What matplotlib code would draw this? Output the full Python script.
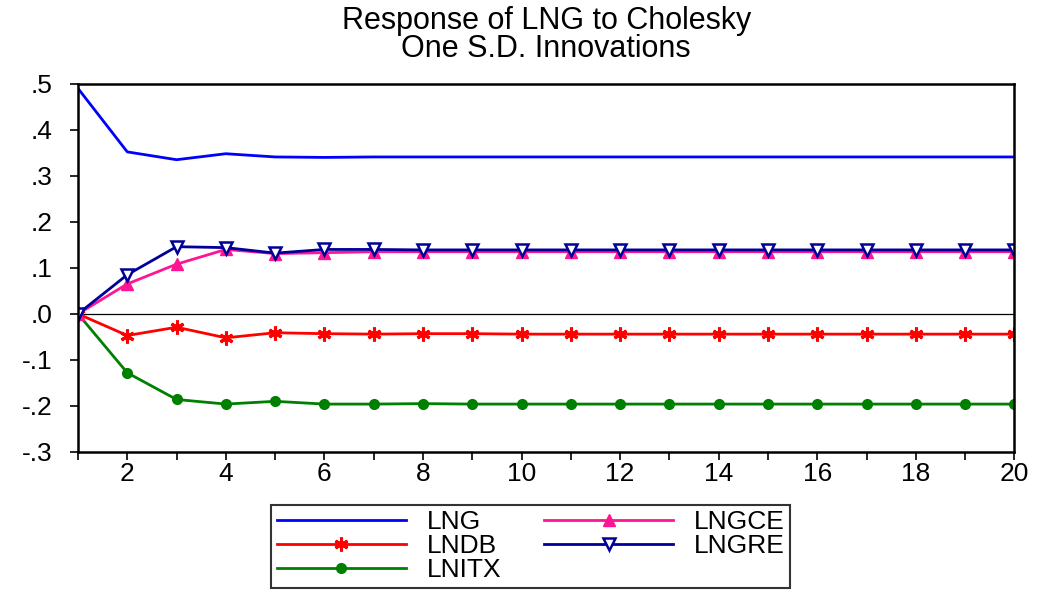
import numpy as np
import matplotlib
matplotlib.use("Agg")
import matplotlib.pyplot as plt

plt.rcParams['font.family'] = ['Liberation Sans', 'DejaVu Sans']

# impulse responses, periods 1..20
periods = np.arange(1, 21)
lng = [0.490, 0.352, 0.335, 0.348, 0.341, 0.340, 0.341, 0.341, 0.341, 0.341,
       0.341, 0.341, 0.341, 0.341, 0.341, 0.341, 0.341, 0.341, 0.341, 0.341]
lngce = [0.000, 0.065, 0.108, 0.140, 0.131, 0.133, 0.135, 0.135, 0.135, 0.135,
         0.135, 0.135, 0.135, 0.135, 0.135, 0.135, 0.135, 0.135, 0.135, 0.135]
lngre = [0.000, 0.085, 0.146, 0.144, 0.132, 0.140, 0.140, 0.139, 0.139, 0.139,
         0.139, 0.139, 0.139, 0.139, 0.139, 0.139, 0.139, 0.139, 0.139, 0.139]
lndb = [0.000, -0.047, -0.029, -0.052, -0.041, -0.043, -0.044, -0.043, -0.043, -0.044,
        -0.044, -0.044, -0.044, -0.044, -0.044, -0.044, -0.044, -0.044, -0.044, -0.044]
lnitx = [0.000, -0.128, -0.186, -0.196, -0.190, -0.196, -0.196, -0.195, -0.196, -0.196,
         -0.196, -0.196, -0.196, -0.196, -0.196, -0.196, -0.196, -0.196, -0.196, -0.196]

fig = plt.figure(figsize=(10.37, 5.9), dpi=100)
ax = fig.add_axes([0.0752, 0.234, 0.903, 0.624])

ax.axhline(0, color='black', lw=0.9, zorder=1)
l1, = ax.plot(periods, lng, color='#0000ff', lw=2, label='LNG')
l2, = ax.plot(periods, lndb, color='#ff0000', lw=2, marker=(6, 2, 0), ms=10,
              mew=2.2, label='LNDB')
l3, = ax.plot(periods, lnitx, color='#008000', lw=2, marker='o', ms=7,
              label='LNITX')
l4, = ax.plot(periods, lngce, color='#ff1493', lw=2, marker='^', ms=9,
              label='LNGCE')
l5, = ax.plot(periods, lngre, color='#000099', lw=2, marker='v', ms=9,
              mfc='white', mew=1.8, label='LNGRE')

ax.set_xlim(1, 20)
ax.set_ylim(-0.3, 0.5)
ax.set_xticks(periods)
ax.set_xticklabels([str(p) if p % 2 == 0 else '' for p in periods])
yt = [-0.3, -0.2, -0.1, 0.0, 0.1, 0.2, 0.3, 0.4, 0.5]
ax.set_yticks(yt)
ax.set_yticklabels(['-.3', '-.2', '-.1', '.0', '.1', '.2', '.3', '.4', '.5'])
ax.tick_params(axis='both', direction='out', length=6, width=1.2, labelsize=19)
ax.tick_params(axis='y', pad=12)
ax.tick_params(axis='x', pad=1)
for s in ax.spines.values():
    s.set_linewidth(1.8)

ax.set_title('Response of LNG to Cholesky\nOne S.D. Innovations', fontsize=22,
             linespacing=0.95, pad=19)

leg = fig.legend(handles=[l1, l2, l3, l4, l5], ncol=2, loc='lower center',
                 bbox_to_anchor=(0.512, 0.004), borderaxespad=0, fontsize=19,
                 frameon=True, fancybox=False, edgecolor='black',
                 handlelength=4.9, borderpad=0.2, labelspacing=0.0,
                 columnspacing=1.6, handletextpad=0.8)
leg.get_frame().set_linewidth(1.5)

fig.savefig('out.png', dpi=100)
